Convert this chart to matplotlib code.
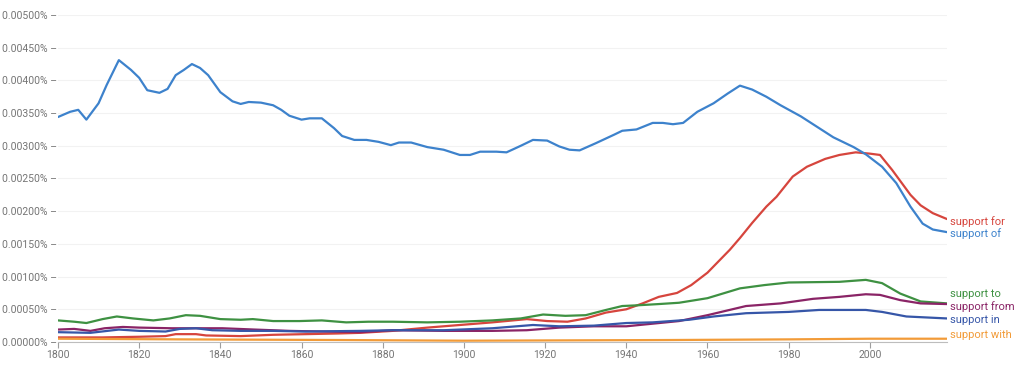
import matplotlib.pyplot as plt

plt.rcParams['font.family'] = ['Roboto', 'DejaVu Sans']

# values are in percent (0.00345 means 0.00345%)
of_years = [1800, 1803, 1805, 1807, 1810, 1812, 1815, 1818, 1820, 1822, 1825, 1827, 1829,
            1831, 1833, 1835, 1837, 1840, 1843, 1845, 1847, 1850, 1853, 1855, 1857, 1860,
            1862, 1865, 1868, 1870, 1873, 1876, 1879, 1882, 1884, 1887, 1891, 1895, 1899,
            1901.5, 1904, 1908, 1910.5, 1914, 1917, 1920.5, 1923.5, 1926, 1928.5, 1932.5,
            1937, 1939, 1942.5, 1946.5, 1949, 1951.5, 1954, 1957.5, 1961.5, 1965, 1968,
            1971, 1974.5, 1978, 1983, 1987, 1991, 1996, 1999, 2003, 2006.5, 2010, 2013,
            2015.5, 2019]
of_vals = [0.00344, 0.00352, 0.00355, 0.00340, 0.00365, 0.00393, 0.00431, 0.00416, 0.00404,
           0.00385, 0.00381, 0.00387, 0.00408, 0.00416, 0.00425, 0.00419, 0.00408, 0.00382,
           0.00368, 0.00364, 0.00367, 0.00366, 0.00362, 0.00355, 0.00346, 0.00340, 0.00342,
           0.00342, 0.00327, 0.00315, 0.00309, 0.00309, 0.00306, 0.00301, 0.00305, 0.00305,
           0.00298, 0.00294, 0.00286, 0.00286, 0.00291, 0.00291, 0.00290, 0.00300, 0.00309,
           0.00308, 0.00299, 0.00294, 0.00293, 0.00304, 0.00317, 0.00323, 0.00325, 0.00335,
           0.00335, 0.00333, 0.00335, 0.00352, 0.00365, 0.00380, 0.00392, 0.00386, 0.00375,
           0.00362, 0.00345, 0.00329, 0.00313, 0.00298, 0.00287, 0.00268, 0.00243, 0.00207,
           0.00181, 0.00172, 0.00168]

for_years = [1800, 1811, 1820, 1826.5, 1829, 1834, 1836.5, 1845, 1853, 1861, 1869, 1874.5,
             1882.5, 1891, 1899, 1907, 1915.5, 1920.5, 1925.5, 1930, 1935, 1940, 1944, 1948,
             1952.5, 1956, 1960, 1965.5, 1968, 1971, 1974.5, 1977, 1981, 1984.5, 1989, 1992.5,
             1996.5, 2000, 2002.5, 2005.5, 2010, 2012.5, 2015.5, 2019]
for_vals = [0.00007, 0.00007, 0.00008, 0.00009, 0.00012, 0.00012, 0.00010, 0.00009, 0.00011,
            0.00012, 0.00013, 0.00014, 0.00017, 0.00022, 0.00026, 0.00030, 0.00035, 0.00032,
            0.00031, 0.00036, 0.00045, 0.00050, 0.00059, 0.00069, 0.00075, 0.00087, 0.00106,
            0.00141, 0.00159, 0.00182, 0.00207, 0.00222, 0.00253, 0.00268, 0.00280, 0.00286,
            0.00290, 0.00288, 0.00286, 0.00263, 0.00225, 0.00209, 0.00197, 0.00188]

to_years = [1800, 1804, 1807, 1811, 1814.5, 1818.5, 1823.5, 1827.5, 1831.5, 1835, 1840,
            1845, 1848, 1853, 1859.5, 1865, 1871, 1876.5, 1882.5, 1891, 1899, 1907, 1914,
            1919.5, 1925, 1930, 1935, 1939, 1942.5, 1948, 1953, 1960, 1968, 1974, 1980,
            1992.5, 1999, 2003, 2007.5, 2012.5, 2019]
to_vals = [0.00033, 0.00031, 0.00029, 0.00035, 0.00039, 0.00036, 0.00033, 0.00036, 0.00041,
           0.00040, 0.00035, 0.00034, 0.00035, 0.00032, 0.00032, 0.00033, 0.00030, 0.00031,
           0.00031, 0.00030, 0.00031, 0.00033, 0.00036, 0.00042, 0.00040, 0.00041, 0.00049,
           0.00055, 0.00056, 0.00058, 0.00060, 0.00067, 0.00082, 0.00087, 0.00091, 0.00092,
           0.00095, 0.00090, 0.00074, 0.00062, 0.00059]

from_years = [1800, 1804, 1808, 1811.5, 1816, 1820, 1828, 1835, 1840.5, 1848.5, 1857, 1865,
              1874.5, 1882.5, 1895, 1907, 1915.5, 1923.5, 1932, 1940, 1946.5, 1953, 1960,
              1969.5, 1978, 1986, 1992.5, 1999, 2002.5, 2007.5, 2012.5, 2019]
from_vals = [0.00019, 0.00020, 0.00017, 0.00021, 0.00023, 0.00022, 0.00021, 0.00021, 0.00021,
             0.00019, 0.00017, 0.00016, 0.00015, 0.00018, 0.00017, 0.00017, 0.00018, 0.00022,
             0.00024, 0.00024, 0.00028, 0.00032, 0.00041, 0.00055, 0.00059, 0.00066, 0.00069,
             0.00073, 0.00072, 0.00064, 0.00059, 0.00058]

in_years = [1800, 1808, 1815, 1820, 1826.5, 1830, 1834, 1838, 1845, 1853, 1861, 1874.5,
            1882.5, 1895, 1907, 1917, 1923.5, 1932, 1940, 1946.5, 1955.5, 1961.5, 1969.5,
            1980, 1987.5, 1999, 2003, 2009, 2019]
in_vals = [0.00015, 0.00014, 0.00019, 0.00017, 0.00016, 0.00020, 0.00021, 0.00018, 0.00017,
           0.00017, 0.00016, 0.00017, 0.00018, 0.00018, 0.00021, 0.00026, 0.00024, 0.00025,
           0.00029, 0.00030, 0.00034, 0.00039, 0.00044, 0.00046, 0.00049, 0.00049, 0.00046,
           0.00039, 0.00036]

with_years = [1800, 1830, 1870, 1900, 1950, 1980, 2000, 2019]
with_vals = [0.00005, 0.00004, 0.00003, 0.00002, 0.00003, 0.00004, 0.00005, 0.00005]

series = [
    ("support for", for_years, for_vals, "#d6453d", -2),
    ("support of", of_years, of_vals, "#3d82cc", -1),
    ("support to", to_years, to_vals, "#3e9142", 7),
    ("support from", from_years, from_vals, "#8a2466", -2),
    ("support in", in_years, in_vals, "#3656a8", -1),
    ("support with", with_years, with_vals, "#f29b38", 3),
]

y_ticks = [0.0, 0.0005, 0.001, 0.0015, 0.002, 0.0025, 0.003, 0.0035, 0.004, 0.0045, 0.005]
x_ticks = [1800, 1820, 1840, 1860, 1880, 1900, 1920, 1940, 1960, 1980, 2000]

fig = plt.figure(figsize=(10.24, 3.66), dpi=100)
ax = fig.add_axes([0.0566, 0.0656, 0.8682, 0.8934])

for label, xs, ys, color, dy in series:
    ax.plot(xs, ys, color=color, lw=1.6, solid_capstyle="round", zorder=3)
    ax.annotate(label, xy=(xs[-1], ys[-1]), xytext=(2, dy), textcoords="offset points",
                color=color, fontsize=8, va="center", ha="left", annotation_clip=False)

ax.set_xlim(1800, 2019)
ax.set_ylim(0, 0.005)
ax.set_yticks(y_ticks)
ax.set_yticklabels(["{:.5f}% \u2013".format(v) for v in y_ticks])
ax.set_xticks(x_ticks)
ax.set_xticklabels([str(x) for x in x_ticks])
ax.tick_params(axis="y", length=0, pad=1, labelsize=7.5, labelcolor="#757575")
ax.tick_params(axis="x", length=4, width=0.8, color="#9e9e9e", pad=2, labelsize=7.5,
               labelcolor="#757575")
ax.grid(axis="y", color="#f2f2f2", lw=0.8, zorder=0)
for side in ["top", "right", "left"]:
    ax.spines[side].set_visible(False)
ax.spines["bottom"].set_color("#bdbdbd")
ax.spines["bottom"].set_linewidth(0.8)

fig.savefig("out.png", dpi=100)
